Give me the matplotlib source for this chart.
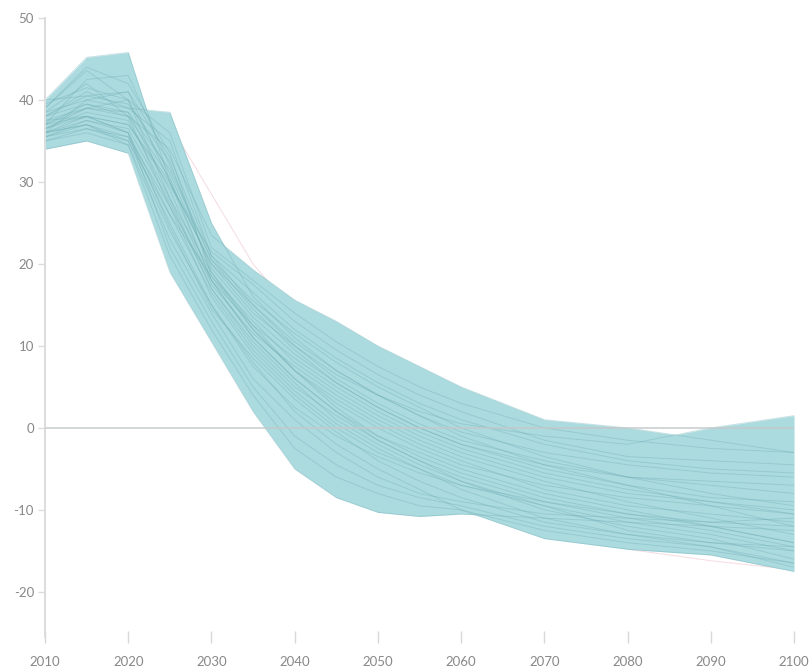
import numpy as np
import matplotlib
matplotlib.use('Agg')
import matplotlib.pyplot as plt

plt.rcParams['font.family'] = ['Lato', 'DejaVu Sans']
plt.rcParams['axes.unicode_minus'] = False

years = [2010, 2015, 2020, 2025, 2030, 2035, 2040, 2045, 2050, 2055, 2060, 2070, 2080, 2090, 2100]

# one row per scenario pathway
s01 = [40.0, 45.2, 45.8, 30.0, 20.0, 14.0, 10.0, 6.0, 3.0, 0.5, -1.5, -4.0, -6.0, -7.0, -8.0]
s02 = [38.0, 41.0, 39.0, 38.5, 25.0, 16.0, 11.0, 7.0, 4.0, 1.5, -0.5, -3.0, -4.5, -5.5, -6.0]
s03 = [37.0, 39.0, 38.0, 34.0, 23.5, 19.3, 15.6, 13.0, 10.0, 7.5, 5.0, 1.0, 0.0, -1.5, -3.0]
s04 = [36.0, 38.0, 37.0, 30.0, 20.0, 15.0, 10.0, 6.5, 4.0, 2.0, 0.5, -1.0, -2.0, 0.0, 1.5]
s05 = [34.0, 35.0, 33.5, 19.0, 10.5, 2.0, -5.0, -8.5, -10.3, -10.8, -10.5, -11.0, -11.5, -12.0, -12.5]
s06 = [36.0, 37.0, 35.0, 24.0, 15.0, 8.0, 2.0, -2.0, -5.0, -7.5, -10.0, -13.5, -14.8, -15.5, -17.5]
s07 = [40.0, 40.5, 41.0, 30.0, 18.0, 11.0, 6.0, 2.0, -1.0, -3.0, -5.0, -8.0, -10.0, -12.0, -14.0]
s08 = [39.0, 43.6, 40.0, 28.0, 17.0, 10.0, 5.0, 1.5, -1.5, -4.0, -6.0, -9.0, -11.0, -12.5, -14.5]
s09 = [38.5, 42.0, 38.0, 27.0, 16.0, 9.0, 4.0, 0.0, -3.0, -5.0, -7.0, -9.5, -11.5, -13.0, -15.0]
s10 = [37.5, 38.0, 36.0, 26.0, 18.5, 13.0, 8.0, 4.5, 1.5, -1.0, -3.0, -6.0, -8.0, -9.0, -10.0]
s11 = [36.5, 38.5, 37.5, 28.0, 19.0, 12.0, 7.0, 3.0, 0.0, -2.5, -4.5, -7.0, -8.5, -9.5, -10.5]
s12 = [35.5, 37.0, 35.5, 25.0, 15.0, 7.5, 2.5, -1.0, -3.5, -5.5, -7.0, -9.0, -10.5, -11.5, -12.0]
s13 = [35.0, 36.0, 34.5, 23.0, 14.0, 6.0, 1.0, -3.0, -6.0, -8.0, -9.0, -10.5, -11.0, -11.5, -11.0]
s14 = [36.0, 40.0, 41.0, 33.0, 21.0, 16.5, 12.0, 8.5, 5.5, 3.0, 1.0, -2.0, -4.0, -5.0, -5.5]
s15 = [37.0, 42.5, 43.0, 32.0, 20.5, 15.5, 11.5, 8.0, 5.0, 2.5, 0.0, -3.5, -6.0, -8.0, -9.5]
s16 = [38.0, 39.5, 38.5, 29.0, 17.5, 11.5, 7.5, 4.0, 1.0, -1.5, -3.5, -6.5, -9.0, -11.0, -13.0]
s17 = [39.5, 41.5, 40.0, 31.0, 19.5, 13.5, 9.0, 5.5, 2.5, 0.0, -2.0, -5.0, -7.0, -8.5, -9.0]
s18 = [36.0, 37.5, 36.5, 27.5, 17.0, 10.5, 5.5, 1.0, -2.0, -4.5, -6.5, -10.0, -12.0, -13.5, -16.0]
s19 = [35.5, 36.5, 35.0, 26.0, 16.5, 9.5, 4.5, 0.5, -2.5, -5.0, -7.5, -11.0, -13.0, -14.0, -15.0]
s20 = [37.0, 38.0, 37.0, 29.5, 21.5, 17.5, 13.0, 9.5, 6.5, 4.0, 2.0, -1.5, -3.5, -4.0, -4.5]
s21 = [38.0, 40.5, 39.5, 32.5, 19.0, 12.5, 8.5, 5.0, 2.0, -0.5, -2.5, -5.5, -7.5, -9.0, -10.5]
s22 = [36.5, 38.0, 36.0, 22.0, 13.0, 5.0, -1.0, -4.5, -7.0, -8.5, -9.5, -12.0, -13.5, -14.5, -16.5]
s23 = [35.0, 36.5, 35.5, 27.0, 18.0, 12.5, 7.0, 2.5, -1.0, -3.5, -5.5, -8.5, -10.5, -12.0, -14.0]
s24 = [37.5, 39.0, 38.5, 31.5, 20.5, 14.5, 9.5, 5.5, 2.5, 0.0, -2.0, -4.5, -6.0, -6.5, -7.0]
s25 = [39.0, 44.0, 42.0, 33.5, 18.5, 12.0, 7.0, 3.5, 0.5, -2.0, -4.0, -7.5, -9.5, -10.5, -11.5]
s26 = [36.0, 37.0, 34.5, 21.0, 12.0, 4.0, -2.5, -6.0, -8.0, -9.5, -10.0, -12.5, -14.0, -15.0, -16.5]
s27 = [38.5, 40.0, 39.0, 35.0, 21.0, 15.0, 10.5, 7.0, 4.0, 1.5, -1.0, -4.5, -7.0, -9.5, -12.0]
s28 = [37.0, 39.5, 38.0, 30.5, 18.0, 11.0, 6.0, 2.0, -1.5, -4.0, -6.5, -9.5, -12.5, -14.0, -14.5]
s29 = [35.5, 37.5, 36.0, 24.5, 14.5, 8.5, 3.5, -0.5, -4.0, -6.5, -8.5, -11.5, -13.0, -14.5, -17.0]
s30 = [36.5, 39.0, 40.0, 36.0, 22.0, 18.0, 14.0, 10.5, 7.5, 5.0, 3.0, 0.0, -1.5, -2.5, -3.0]

# separate reference pathway, drawn very faintly
faint_path = [36.0, 37.0, 36.0, 37.0, 28.5, 20.0, 14.0, 9.0, 5.0, 1.0, -2.0, -8.0, -14.8, -16.2, -17.3]

scenarios = np.array([s01, s02, s03, s04, s05, s06, s07, s08, s09, s10,
                      s11, s12, s13, s14, s15, s16, s17, s18, s19, s20,
                      s21, s22, s23, s24, s25, s26, s27, s28, s29, s30])

fig = plt.figure(figsize=(8.11, 6.67), dpi=100)
ax = fig.add_axes([0.0555, 0.045, 0.9236, 0.928])

# envelope of all pathways, taken on a fine grid so crossings between years are kept
grid = np.linspace(years[0], years[-1], 1801)
interp = np.array([np.interp(grid, years, s) for s in scenarios])
ax.fill_between(grid, interp.min(axis=0), interp.max(axis=0),
                color='#acdbdf', linewidth=0, zorder=1)

for s in scenarios:
    ax.plot(years, s, color='#6aaab3', lw=0.7, alpha=0.35, zorder=2)

ax.plot(years, faint_path, color='#f3d3da', lw=0.7, alpha=0.8, zorder=0.5)

ax.axhline(0, color='#c4c9ca', lw=1.3, alpha=0.8, zorder=3)

ax.set_xlim(2010, 2100)
ax.set_ylim(-25.5, 50)
ax.set_xticks(range(2010, 2101, 10))
ax.set_yticks(range(-20, 51, 10))

for side in ['top', 'right', 'bottom']:
    ax.spines[side].set_visible(False)
ax.spines['left'].set_color('#dcdcdc')
ax.spines['left'].set_linewidth(1.4)

ax.tick_params(axis='y', colors='#dcdcdc', length=5, width=1, pad=3, labelsize=9.5, labelcolor='#888888')
ax.tick_params(axis='x', colors='#d8d8d8', direction='inout', length=9, width=1, pad=9, labelsize=9.5, labelcolor='#888888')

plt.savefig('out.png', dpi=100)
